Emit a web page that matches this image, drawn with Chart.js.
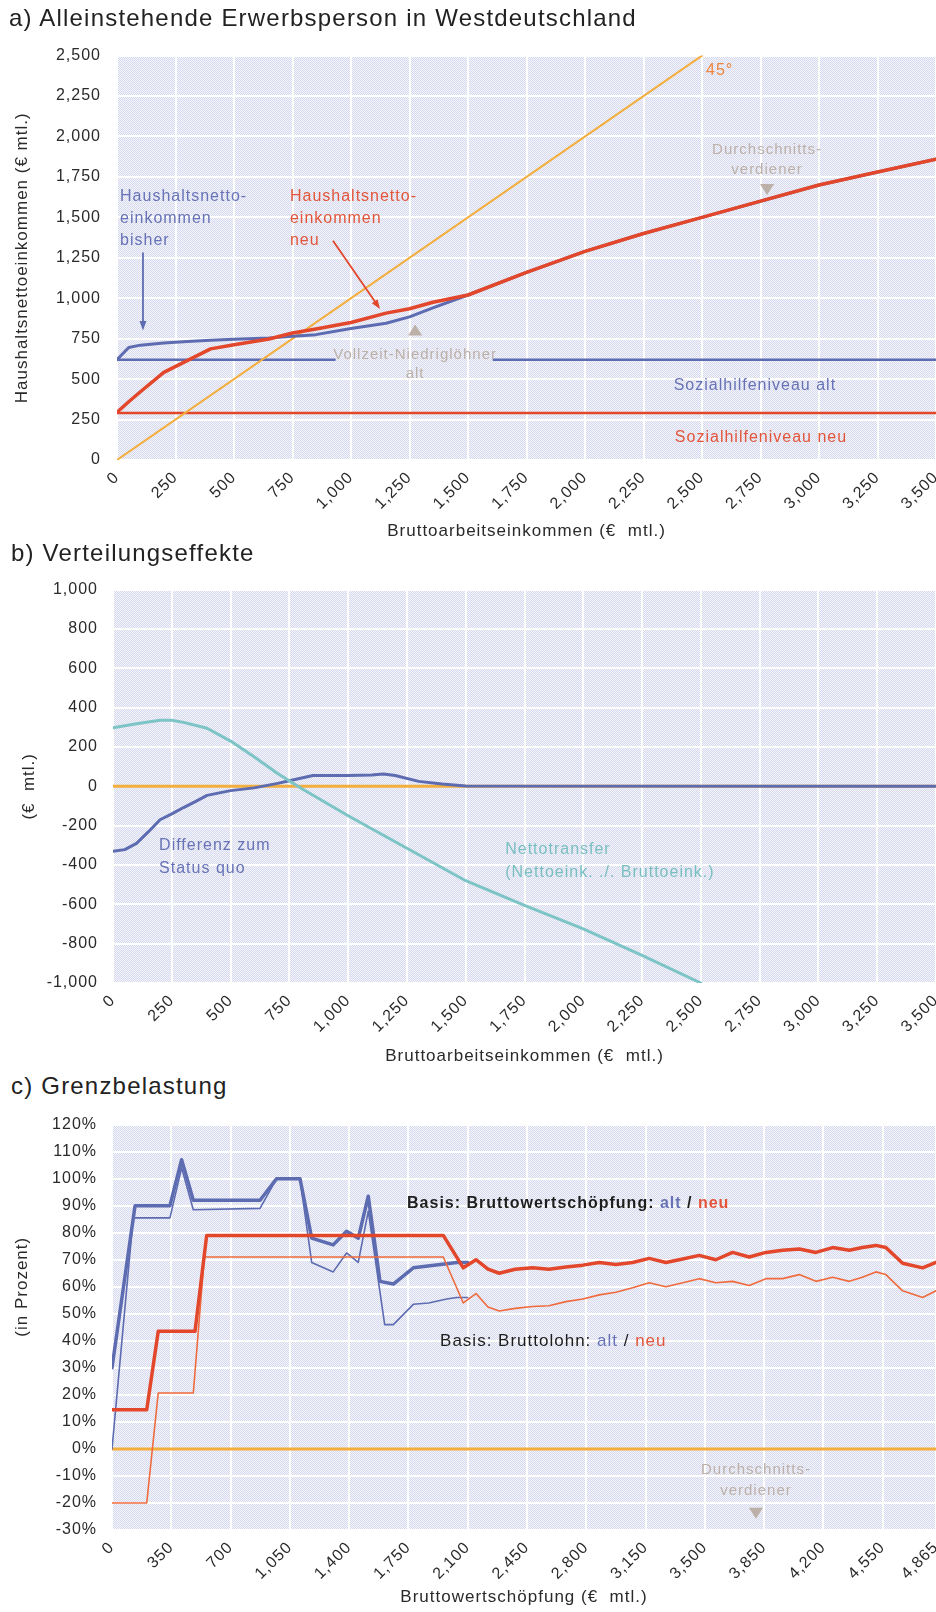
<!DOCTYPE html>
<html>
<head>
<meta charset="utf-8">
<script src="https://cdn.jsdelivr.net/npm/chart.js@4.4.1/dist/chart.umd.min.js"></script>
<style>
  html, body { margin: 0; padding: 0; background: #fff; width: 936px; height: 1612px; overflow: hidden; position: relative;
    font-family: Arial, "Liberation Sans", sans-serif; }
  canvas { position: absolute; left: 0; }
  .ttl { position: absolute; font-size: 24px; letter-spacing: 1.2px; color: #222; white-space: nowrap; line-height: 28px; z-index: 2; }
</style>
</head>
<body>
<div class="ttl" style="left:9px;top:4px">a) Alleinstehende Erwerbsperson in Westdeutschland</div>
<canvas id="chartA" width="936" height="520" style="top:30px;width:936px;height:520px"></canvas>
<div class="ttl" style="left:11px;top:539px">b) Verteilungseffekte</div>
<canvas id="chartB" width="936" height="507" style="top:565px;width:936px;height:507px"></canvas>
<div class="ttl" style="left:11px;top:1072px">c) Grenzbelastung</div>
<canvas id="chartC" width="936" height="512" style="top:1100px;width:936px;height:512px"></canvas>

<script>
// ---- a) Haushaltsnettoeinkommen ----
const grossA    = [0, 50, 100, 200, 300, 400, 500, 650, 750, 850, 1000, 1150, 1250, 1350, 1500, 1750, 2000, 2250, 2500, 2750, 3000, 3250, 3500];
const netNeu    = [295, 360, 422, 542, 614, 687, 712, 748, 785, 810, 850, 908, 935, 975, 1020, 1160, 1290, 1400, 1500, 1600, 1700, 1780, 1860];
const netBisher = [620, 695, 710, 723, 732, 741, 746, 754, 765, 775, 813, 845, 885, 940, 1020, 1160, 1290, 1400, 1500, 1600, 1700, 1780, 1860];
const diagX = [0, 2500];
const diagY = [0, 2500];
const shAltX = [0, 930, 1270, 1610, 3500];
const shAltY = [620, 620, null, 620, 620];
const shNeuX = [0, 3500];
const shNeuY = [290, 290];
const xTicksAB = [0, 250, 500, 750, 1000, 1250, 1500, 1750, 2000, 2250, 2500, 2750, 3000, 3250, 3500];

// ---- b) Verteilungseffekte ----
const diffX = [0, 50, 100, 150, 200, 250, 300, 350, 400, 500, 600, 700, 750, 850, 1000, 1100, 1150, 1200, 1300, 1400, 1500, 3500];
const diffY = [-330, -322, -290, -232, -170, -140, -108, -78, -46, -22, -8, 15, 28, 55, 55, 58, 63, 55, 25, 12, 2, 0];
const transferX = [0, 100, 200, 250, 300, 400, 500, 600, 700, 800, 900, 1000, 1250, 1500, 1750, 2000, 2250, 2500];
const transferY = [298, 318, 336, 336, 325, 295, 230, 150, 65, -10, -80, -150, -315, -480, -605, -725, -860, -1000];
const zeroBX = [0, 3500];
const zeroBY = [0, 0];

// ---- c) Grenzbelastung ----
const bwsAltX = [0, 136, 342, 411, 480, 874, 972, 1110, 1179, 1306, 1385, 1454, 1513, 1582, 1661, 1779, 1976, 2035, 2100];
const bwsAltY = [30, 90, 90, 107, 92, 92, 100, 100, 78, 75.5, 80.5, 78, 93.5, 62, 61, 67, 68.5, 69, 69];
const lohnAltX = [0, 125, 342, 411, 480, 874, 972, 1110, 1179, 1306, 1385, 1454, 1513, 1610, 1661, 1779, 1870, 1976, 2035, 2100];
const lohnAltY = [0, 85.5, 85.5, 104, 88.5, 89, 100, 100, 69, 65.5, 72.5, 69, 88, 46, 46, 53.5, 54, 55.5, 56, 56];
const bwsNeuX = [0, 205, 273, 490, 559, 1956, 2074, 2149, 2220, 2286, 2380, 2483, 2580, 2680, 2780, 2877, 2975, 3074, 3172, 3270,
                 3370, 3467, 3565, 3664, 3762, 3861, 3959, 4058, 4156, 4255, 4353, 4430, 4510, 4569, 4668, 4786, 4865];
const bwsNeuY = [14.5, 14.5, 43.5, 43.5, 79, 79, 67, 70, 66.5, 65, 66.5, 67, 66.5, 67.3, 68, 69, 68.2, 69, 70.5, 69,
                 70.3, 71.6, 70, 72.7, 71, 72.7, 73.5, 74, 72.7, 74.5, 73.5, 74.5, 75.3, 74.5, 68.7, 67, 69];
const lohnNeuX = [0, 205, 273, 480, 545, 1956, 2074, 2149, 2220, 2286, 2380, 2483, 2580, 2680, 2780, 2877, 2975, 3074, 3172, 3270,
                  3370, 3467, 3565, 3664, 3762, 3861, 3959, 4058, 4156, 4255, 4353, 4430, 4510, 4569, 4668, 4786, 4865];
const lohnNeuY = [-20, -20, 20.7, 20.7, 71, 71, 54, 57.5, 52.5, 51, 52, 52.7, 53, 54.5, 55.5, 57, 58, 59.6, 61.5, 60,
                  61.5, 63, 61.5, 62, 60.5, 63, 63, 64.5, 62, 63.5, 62, 63.5, 65.5, 64.5, 58.5, 56, 58.5];
const zeroCX = [0, 4865];
const zeroCY = [0, 0];
const xTicksC = [0, 350, 700, 1050, 1400, 1750, 2100, 2450, 2800, 3150, 3500, 3850, 4200, 4550, 4865];

const BLUE = '#5d6bb1', RED = '#e2472b', RED_THIN = '#ef6b3d', ORANGE = '#f3ae3d', TEAL = '#7dc4c6';
const BLUE_TXT = '#6773b6', RED_TXT = '#e3553a', GREY_TXT = '#bcb0a8', TEAL_TXT = '#79bfc2', INK = '#2a2a2a';
const FONT = 'Arial, "Liberation Sans", sans-serif';

Chart.defaults.font.family = FONT;
Chart.defaults.color = INK;

const pts = (xs, ys) => xs.map((x, i) => ({ x, y: ys[i] }));
const fmt = v => Number(v).toLocaleString('en-US');

function line(label, xs, ys, color, width) {
  return { label, data: pts(xs, ys), borderColor: color, borderWidth: width, pointRadius: 0, tension: 0, fill: false,
           borderJoinStyle: 'round', borderCapStyle: 'round' };
}

let pattern;
function plotFill(ctx) {
  if (!pattern) {
    const c = document.createElement('canvas');
    c.width = 2; c.height = 2;
    const g = c.getContext('2d');
    g.fillStyle = '#f6f5f7'; g.fillRect(0, 0, 2, 2);
    g.fillStyle = '#d4d9ef'; g.fillRect(0, 0, 1, 1); g.fillRect(1, 1, 1, 1);
    pattern = ctx.createPattern(c, 'repeat');
  }
  return pattern;
}

// background, text notes, arrows and small triangles
function makeDecor(spec) {
  return {
    id: 'decor',
    beforeUpdate(chart) { chart.ctx.letterSpacing = '1px'; },
    beforeDraw(chart) {
      const { ctx, chartArea: a } = chart;
      ctx.letterSpacing = '1px';
      ctx.save();
      ctx.fillStyle = plotFill(ctx);
      ctx.fillRect(a.left, a.top, a.width, a.height);
      ctx.restore();
    },
    afterDatasetsDraw(chart) {
      const { ctx, scales: { x, y } } = chart;
      (spec.arrows || []).forEach(ar => {
        const x1 = x.getPixelForValue(ar.from[0]), y1 = y.getPixelForValue(ar.from[1]);
        const x2 = x.getPixelForValue(ar.to[0]), y2 = y.getPixelForValue(ar.to[1]);
        const ang = Math.atan2(y2 - y1, x2 - x1);
        ctx.save();
        ctx.strokeStyle = ar.color; ctx.fillStyle = ar.color; ctx.lineWidth = 1.8;
        ctx.beginPath(); ctx.moveTo(x1, y1); ctx.lineTo(x2 - 6 * Math.cos(ang), y2 - 6 * Math.sin(ang)); ctx.stroke();
        ctx.beginPath();
        ctx.moveTo(x2, y2);
        ctx.lineTo(x2 - 10 * Math.cos(ang - 0.35), y2 - 10 * Math.sin(ang - 0.35));
        ctx.lineTo(x2 - 10 * Math.cos(ang + 0.35), y2 - 10 * Math.sin(ang + 0.35));
        ctx.closePath(); ctx.fill();
        ctx.restore();
      });
      (spec.marks || []).forEach(m => {
        const px = x.getPixelForValue(m.x), py = y.getPixelForValue(m.y);
        const d = m.dir === 'up' ? -1 : 1;
        ctx.save();
        ctx.fillStyle = m.color || GREY_TXT;
        ctx.beginPath();
        ctx.moveTo(px - 7, py - 5 * d); ctx.lineTo(px + 7, py - 5 * d); ctx.lineTo(px, py + 6 * d);
        ctx.closePath(); ctx.fill();
        ctx.restore();
      });
      (spec.notes || []).forEach(n => {
        ctx.save();
        ctx.font = (n.bold ? 'bold ' : '') + (n.size || 16) + 'px ' + FONT;
        ctx.textBaseline = 'middle';
        ctx.textAlign = 'left';
        let px = n.xPix != null ? n.xPix : x.getPixelForValue(n.x);
        let py = y.getPixelForValue(n.y);
        if (n.rot) { ctx.translate(px, py); ctx.rotate(n.rot * Math.PI / 180); px = 0; py = 0; }
        n.lines.forEach((ln, i) => {
          const segs = Array.isArray(ln) ? ln : [[ln, n.color]];
          const total = segs.reduce((s, sg) => s + ctx.measureText(sg[0]).width, 0);
          let cx = n.align === 'center' ? px - total / 2 : px;
          segs.forEach(sg => {
            ctx.fillStyle = sg[1] || n.color;
            ctx.fillText(sg[0], cx, py + i * (n.lh || 22));
            cx += ctx.measureText(sg[0]).width;
          });
        });
        ctx.restore();
      });
    }
  };
}

function axisX(ticks, title, height, titlePad) {
  return {
    type: 'linear', min: ticks[0], max: ticks[ticks.length - 1],
    afterBuildTicks: s => { s.ticks = ticks.map(v => ({ value: v })); },
    afterFit: s => { s.height = height; s.paddingLeft = 0; s.paddingRight = 0; },
    ticks: { autoSkip: false, minRotation: 45, maxRotation: 45, padding: 8, color: INK, font: { size: 16 }, callback: v => fmt(v) },
    grid: { color: '#ffffff', lineWidth: 2, drawTicks: false },
    border: { display: false },
    title: { display: true, text: title, color: INK, font: { size: 17 }, padding: { top: 0, bottom: titlePad } }
  };
}

function axisY(min, max, step, width, pad, cb, title, titlePad) {
  return {
    min, max,
    afterFit: s => { s.width = width; },
    ticks: { stepSize: step, padding: pad, color: INK, font: { size: 16 }, callback: cb },
    grid: { color: '#ffffff', lineWidth: 2, drawTicks: false },
    border: { display: false },
    title: { display: !!title, text: title || '', color: INK, font: { size: 17 }, padding: { top: titlePad || 0, bottom: 0 } }
  };
}

function baseOptions(pad, scales) {
  return {
    responsive: false, animation: false,
    layout: { padding: { top: pad, left: 0, right: 0, bottom: 0 } },
    plugins: { legend: { display: false }, tooltip: { enabled: false } },
    scales
  };
}

// ---- chart a ----
new Chart(document.getElementById('chartA').getContext('2d'), {
  type: 'line',
  data: { datasets: [
    line('Haushaltsnettoeinkommen neu', grossA, netNeu, RED, 3.5),
    line('Haushaltsnettoeinkommen bisher', grossA, netBisher, BLUE, 3),
    line('45°', diagX, diagY, ORANGE, 2),
    line('Sozialhilfeniveau neu', shNeuX, shNeuY, RED, 2.5),
    line('Sozialhilfeniveau alt', shAltX, shAltY, BLUE, 2.5)
  ] },
  options: baseOptions(15, {
    x: axisX(xTicksAB, 'Bruttoarbeitseinkommen (€  mtl.)', 90, 8),
    y: axisY(0, 2500, 250, 117, 16, v => fmt(v), 'Haushaltsnettoeinkommen (€ mtl.)', 12)
  }),
  plugins: [makeDecor({
    notes: [
      { lines: ['Haushaltsnetto-', 'einkommen', 'bisher'], x: 13, y: 1627, color: BLUE_TXT },
      { lines: ['Haushaltsnetto-', 'einkommen', 'neu'], x: 739, y: 1627, color: RED_TXT },
      { lines: ['45°'], x: 2517, y: 2410, color: '#ee853d' },
      { lines: ['Durchschnitts-', 'verdiener'], x: 2778, y: 1916, color: GREY_TXT, align: 'center', size: 15, lh: 20 },
      { lines: ['Vollzeit-Niedriglöhner', 'alt'], x: 1274, y: 651, color: GREY_TXT, align: 'center', size: 15, lh: 19 },
      { lines: ['Sozialhilfeniveau alt'], x: 2726, y: 458, color: BLUE_TXT, align: 'center' },
      { lines: ['Sozialhilfeniveau neu'], x: 2752, y: 139, color: RED_TXT, align: 'center' }
    ],
    arrows: [
      { from: [111, 1283], to: [111, 801], color: BLUE },
      { from: [923, 1355], to: [1124, 934], color: RED }
    ],
    marks: [
      { x: 2778, y: 1675, dir: 'down' },
      { x: 1274, y: 801, dir: 'up' }
    ]
  })]
});

// ---- chart b ----
new Chart(document.getElementById('chartB').getContext('2d'), {
  type: 'line',
  data: { datasets: [
    line('Nettotransfer', transferX, transferY, TEAL, 3),
    line('Differenz zum Status quo', diffX, diffY, BLUE, 3),
    line('Null', zeroBX, zeroBY, ORANGE, 3)
  ] },
  options: baseOptions(17, {
    x: axisX(xTicksAB, 'Bruttoarbeitseinkommen (€  mtl.)', 89, 5),
    y: axisY(-1000, 1000, 200, 113, 15, v => fmt(v), '(€  mtl.)', 19)
  }),
  plugins: [makeDecor({
    notes: [
      { lines: ['Differenz zum', 'Status quo'], x: 196, y: -299, color: BLUE_TXT, lh: 23 },
      { lines: ['Nettotransfer', '(Nettoeink. ./. Bruttoeink.)'], x: 1668, y: -323, color: TEAL_TXT, lh: 23 }
    ]
  })]
});

// ---- chart c ----
new Chart(document.getElementById('chartC').getContext('2d'), {
  type: 'line',
  data: { datasets: [
    line('Bruttowertschöpfung neu', bwsNeuX, bwsNeuY, RED, 3.5),
    line('Bruttolohn neu', lohnNeuX, lohnNeuY, RED_THIN, 1.6),
    line('Bruttowertschöpfung alt', bwsAltX, bwsAltY, BLUE, 3.5),
    line('Bruttolohn alt', lohnAltX, lohnAltY, BLUE, 1.6),
    line('Null', zeroCX, zeroCY, ORANGE, 3)
  ] },
  options: baseOptions(17, {
    x: axisX(xTicksC, 'Bruttowertschöpfung (€  mtl.)', 82, 4),
    y: axisY(-30, 120, 10, 112, 15, v => v + '%')
  }),
  plugins: [makeDecor({
    notes: [
      { lines: [[['Basis: Bruttowertschöpfung: ', '#1e1e1e'], ['alt', BLUE_TXT], [' / ', '#1e1e1e'], ['neu', RED_TXT]]],
        x: 1742, y: 90.9, bold: true },
      { lines: [[['Basis: Bruttolohn: ', '#1e1e1e'], ['alt', BLUE_TXT], [' / ', '#1e1e1e'], ['neu', RED_TXT]]],
        x: 1937, y: 40, size: 17 },
      { lines: ['Durchschnitts-', 'verdiener'], x: 3802, y: -7.6, color: GREY_TXT, align: 'center', size: 15, lh: 21 },
      { lines: ['(in Prozent)'], xPix: 22, y: 60, rot: -90, align: 'center', color: INK, size: 17 }
    ],
    marks: [
      { x: 3802, y: -23.6, dir: 'down' }
    ]
  })]
});
</script>
</body>
</html>
